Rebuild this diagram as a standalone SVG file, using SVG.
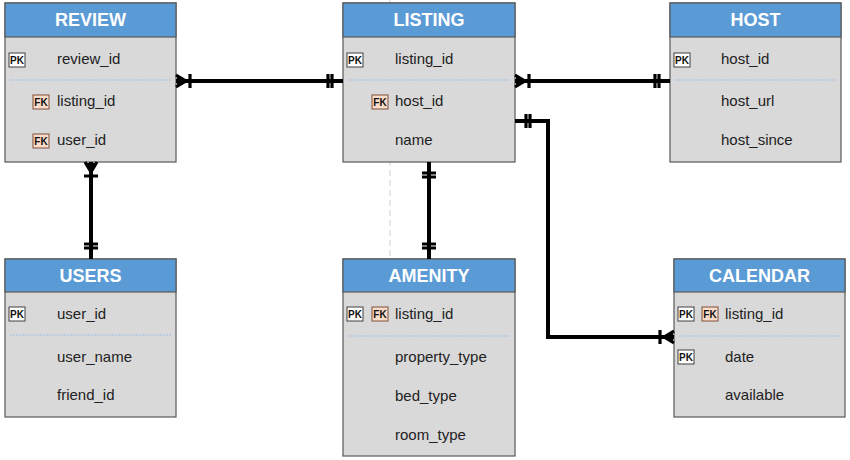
<svg xmlns="http://www.w3.org/2000/svg" width="850" height="460" viewBox="0 0 850 460">
<style>
.body{fill:#d9d9d9;stroke:#595959;stroke-width:1.2}
.head{fill:#5b9bd5;stroke:#595959;stroke-width:1.2}
.title{font-family:"Liberation Sans",Arial,sans-serif;font-weight:bold;font-size:18px;fill:#ffffff;text-anchor:middle}
.row{font-family:"Liberation Sans",Arial,sans-serif;font-size:15px;fill:#222222}
.sep{stroke:#9dc3e6;stroke-width:1;stroke-dasharray:2,1}
.pk{fill:#ffffff;stroke:#404040;stroke-width:1}
.fk{fill:#fbdcc8;stroke:#7f4f3a;stroke-width:1}
.bt{font-family:"Liberation Sans",Arial,sans-serif;font-weight:bold;font-size:10px;fill:#111111;text-anchor:middle}
.conn{fill:none;stroke:#000000;stroke-width:4}
.mk{fill:none;stroke:#000000;stroke-width:3.2}
.mkf{fill:#000000;stroke:none}
</style>
<defs>
<g id="many"><path class="mk" d="M0,-6 L10,0 M0,0 L10,0 M0,6 L10,0 M14,-7 L14,7"/><path class="mkf" d="M1,-4 L10,-1.5 L10,1.5 L1,4 Z"/></g>
<g id="one"><path class="mk" d="M11,-7 L11,7 M15,-7 L15,7"/></g>
<g id="pkb"><rect class="pk" x="0" y="0" width="16" height="14"/><text class="bt" x="8" y="11">PK</text></g>
<g id="fkb"><rect class="fk" x="0" y="0" width="16" height="14"/><text class="bt" x="8" y="11">FK</text></g>
</defs>
<rect width="850" height="460" fill="#ffffff"/>
<line x1="390" y1="0" x2="390" y2="460" stroke="#d0d0d0" stroke-width="1" stroke-dasharray="6,4"/>

<g id="review">
<rect class="body" x="5" y="3" width="171" height="159"/>
<rect class="head" x="5" y="3" width="171" height="34"/>
<text class="title" x="90.5" y="26">REVIEW</text>
<use href="#pkb" x="9" y="53"/>
<text class="row" x="57" y="64">review_id</text>
<line class="sep" x1="10" y1="80" x2="171" y2="80"/>
<use href="#fkb" x="33" y="95"/>
<text class="row" x="57" y="106">listing_id</text>
<use href="#fkb" x="33" y="134"/>
<text class="row" x="57" y="145">user_id</text>
</g>

<g id="listing">
<rect class="body" x="343" y="3" width="172" height="159"/>
<rect class="head" x="343" y="3" width="172" height="34"/>
<text class="title" x="429" y="26">LISTING</text>
<use href="#pkb" x="347" y="53"/>
<text class="row" x="395" y="64">listing_id</text>
<line class="sep" x1="348" y1="80" x2="510" y2="80"/>
<use href="#fkb" x="372" y="95"/>
<text class="row" x="395" y="106">host_id</text>
<text class="row" x="395" y="145">name</text>
</g>

<g id="host">
<rect class="body" x="670" y="3" width="171" height="159"/>
<rect class="head" x="670" y="3" width="171" height="34"/>
<text class="title" x="755.5" y="26">HOST</text>
<use href="#pkb" x="674" y="53"/>
<text class="row" x="721" y="64">host_id</text>
<line class="sep" x1="675" y1="80" x2="836" y2="80"/>
<text class="row" x="721" y="106">host_url</text>
<text class="row" x="721" y="145">host_since</text>
</g>

<g id="users">
<rect class="body" x="5" y="259" width="171" height="158"/>
<rect class="head" x="5" y="259" width="171" height="33"/>
<text class="title" x="90.5" y="282">USERS</text>
<use href="#pkb" x="9" y="307"/>
<text class="row" x="57" y="319">user_id</text>
<line class="sep" x1="10" y1="335" x2="171" y2="335"/>
<text class="row" x="57" y="362">user_name</text>
<text class="row" x="57" y="400">friend_id</text>
</g>

<g id="amenity">
<rect class="body" x="343" y="259" width="172" height="197"/>
<rect class="head" x="343" y="259" width="172" height="33"/>
<text class="title" x="429" y="282">AMENITY</text>
<use href="#pkb" x="347" y="307"/>
<use href="#fkb" x="372" y="307"/>
<text class="row" x="395" y="319">listing_id</text>
<line class="sep" x1="348" y1="336" x2="510" y2="336"/>
<text class="row" x="395" y="362">property_type</text>
<text class="row" x="395" y="401">bed_type</text>
<text class="row" x="395" y="440">room_type</text>
</g>

<g id="calendar">
<rect class="body" x="674" y="259" width="171" height="158"/>
<rect class="head" x="674" y="259" width="171" height="33"/>
<text class="title" x="759.5" y="282">CALENDAR</text>
<use href="#pkb" x="678" y="307"/>
<use href="#fkb" x="702" y="307"/>
<text class="row" x="725" y="319">listing_id</text>
<line class="sep" x1="679" y1="336" x2="840" y2="336"/>
<use href="#pkb" x="678" y="350"/>
<text class="row" x="725" y="362">date</text>
<text class="row" x="725" y="400">available</text>
</g>

<g id="connectors">
<path class="conn" d="M176,81 H343"/>
<use href="#many" transform="translate(176,81)"/>
<use href="#one" transform="translate(343,81) rotate(180)"/>

<path class="conn" d="M515,81 H670"/>
<use href="#many" transform="translate(515,81)"/>
<use href="#one" transform="translate(670,81) rotate(180)"/>

<path class="conn" d="M515,121 H548 V337 H674"/>
<use href="#one" transform="translate(515,121)"/>
<use href="#many" transform="translate(674,337) rotate(180)"/>

<path class="conn" d="M91,162 V259"/>
<use href="#many" transform="translate(91,162) rotate(90)"/>
<use href="#one" transform="translate(91,259) rotate(-90)"/>

<path class="conn" d="M429,162 V259"/>
<use href="#one" transform="translate(429,162) rotate(90)"/>
<use href="#one" transform="translate(429,259) rotate(-90)"/>
</g>
</svg>
